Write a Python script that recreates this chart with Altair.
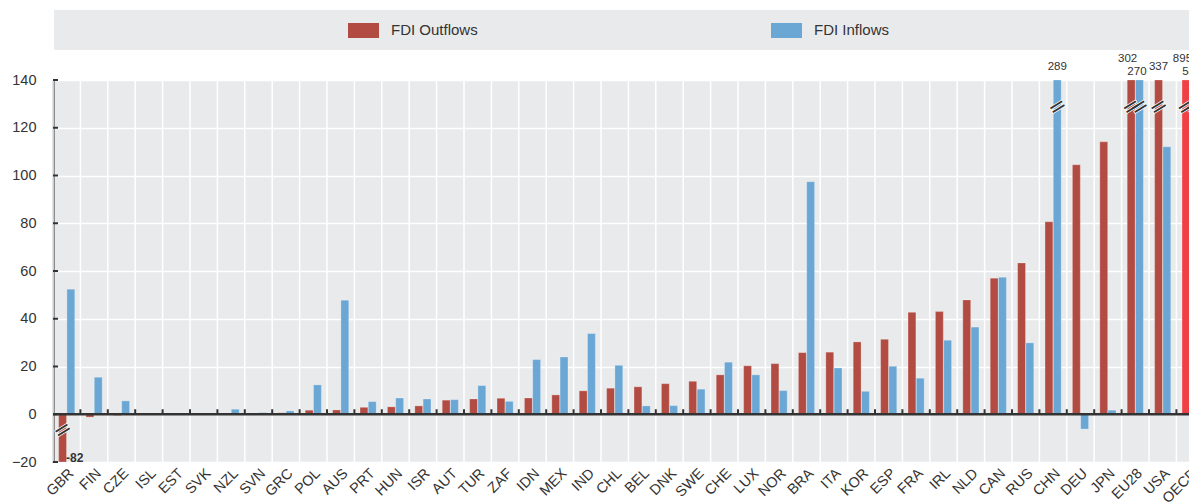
import altair as alt
import pandas as pd

# ---------------- data ----------------
countries = ["GBR", "FIN", "CZE", "ISL", "EST", "SVK", "NZL", "SVN", "GRC", "POL",
             "AUS", "PRT", "HUN", "ISR", "AUT", "TUR", "ZAF", "IDN", "MEX", "IND",
             "CHL", "BEL", "DNK", "SWE", "CHE", "LUX", "NOR", "BRA", "ITA", "KOR",
             "ESP", "FRA", "IRL", "NLD", "CAN", "RUS", "CHN", "DEU", "JPN", "EU28",
             "USA", "OECD"]
fdi_outflows = [-82, -1.2, -0.5, 0, 0, 0, 0, 0.1, 0.6, 1.7,
                1.8, 2.9, 3.1, 3.5, 5.9, 6.4, 6.7, 6.8, 8.1, 9.8,
                10.9, 11.5, 12.8, 13.8, 16.5, 20.3, 21.2, 25.8, 26.0, 30.3,
                31.4, 42.7, 43.0, 47.9, 57.0, 63.4, 80.6, 104.5, 114.1, 302,
                337, 895]
fdi_inflows = [52.4, 15.5, 5.6, 0, 0, 0, 2.1, 0.7, 1.4, 12.3,
               47.8, 5.3, 6.8, 6.4, 6.1, 12.0, 5.4, 22.9, 24.0, 33.8,
               20.5, 3.5, 3.6, 10.5, 21.8, 16.5, 9.9, 97.4, 19.4, 9.6,
               20.1, 15.1, 31.0, 36.5, 57.4, 29.9, 289, -6.2, 1.7, 270,
               112.0, 582]
y_ticks = [-20, 0, 20, 40, 60, 80, 100, 120, 140]
series = ["Outflows", "Inflows"]
legend_labels = ["FDI Outflows", "FDI Inflows"]

# ---------------- styling ----------------
FONT = "Liberation Sans, Arial, sans-serif"
GREY = "#E9EAEC"
DARK = "#333333"
RED, BLUE = "#B24C43", "#6BA7D4"
OECD_RED, OECD_GREEN = "#EE4045", "#8CC152"
YMIN, YMAX = -20, 140
W, H = 1136, 382
STEP = 27.4

rows = []
for c, o, i in zip(countries, fdi_outflows, fdi_inflows):
    for flow, v in (("Outflows", o), ("Inflows", i)):
        key = ("OECD " + flow) if c == "OECD" else flow
        rows.append({"country": c, "flow": flow, "value": v, "ckey": key})
df = pd.DataFrame(rows)

# labels for values beyond the axis range
lab = []
for c, o, i in zip(countries, fdi_outflows, fdi_inflows):
    ob = o > YMAX or o < YMIN
    ib = i > YMAX or i < YMIN
    for flow, v, broken in (("Outflows", o, ob), ("Inflows", i, ib)):
        if not broken:
            continue
        if v < YMIN:
            grp = "neg"
        elif ob and ib:
            grp = "upper" if flow == "Outflows" else "lower"
        else:
            grp = "single"
        lab.append({"country": c, "flow": flow, "value": v,
                    "txt": str(int(round(v))), "grp": grp})
lab_df = pd.DataFrame(lab)

xscale = alt.Scale(domain=countries, range=[0, STEP * len(countries)],
                   paddingInner=0, paddingOuter=0)
yscale = alt.Scale(domain=[YMIN, YMAX], nice=False, zero=False, clamp=True)
xoff = alt.XOffset("flow:N", scale=alt.Scale(domain=series, paddingInner=0.05, paddingOuter=0.68))

cdf = pd.DataFrame({"country": countries})

# vertical white separators between countries
vgrid = alt.Chart(cdf).mark_rule(color="white", strokeWidth=1.5).encode(
    x=alt.X("country:N", scale=xscale, bandPosition=0, title=None,
            axis=alt.Axis(labelAngle=315, labelAlign="right", labelBaseline="top",
                          ticks=False, domain=False, grid=False, labelPadding=4,
                          labelFontSize=14.5, labelColor=DARK, labelFont=FONT))
)

bars = alt.Chart(df).mark_bar(stroke="white", strokeOpacity=0.3, strokeWidth=0.8).encode(
    x=alt.X("country:N", scale=xscale, title=None),
    xOffset=xoff,
    y=alt.Y("value:Q", scale=yscale, title=None,
            axis=alt.Axis(values=y_ticks, grid=True, gridColor="white", gridWidth=1.5,
                          domainColor=DARK, domainWidth=2, ticks=False,
                          labelPadding=17, labelFontSize=14.5, labelColor=DARK,
                          labelFont=FONT)),
    color=alt.Color("ckey:N", legend=None,
                    scale=alt.Scale(domain=["Outflows", "Inflows", "OECD Outflows", "OECD Inflows"],
                                    range=[RED, BLUE, OECD_RED, OECD_GREEN])),
)

zero_line = alt.Chart(pd.DataFrame({"z": [0]})).mark_rule(color=DARK, strokeWidth=2.5).encode(
    y=alt.Y("z:Q", scale=yscale, title=None)
)

zero_ticks = alt.Chart(cdf).transform_filter(
    alt.datum.country != countries[0]
).mark_rule(color=DARK, strokeWidth=2).encode(
    x=alt.X("country:N", scale=xscale, bandPosition=0, title=None),
    y=alt.YDatum(0, scale=yscale),
    y2=alt.Y2Datum(2.1),
)

ytick_marks = alt.Chart(pd.DataFrame({"t": y_ticks})).mark_rule(color=DARK, strokeWidth=2).encode(
    y=alt.Y("t:Q", scale=yscale, title=None),
    x=alt.value(0), x2=alt.value(5),
)

brk_base = alt.Chart(lab_df).transform_calculate(
    by="datum.value > 140 ? 128.8 : -6.6"
).encode(
    x=alt.X("country:N", scale=xscale, title=None),
    xOffset=xoff,
    y=alt.Y("by:Q", scale=yscale, title=None),
    text=alt.value("="),
)
brk_halo = brk_base.mark_text(font="DejaVu Sans", fontSize=22, angle=328,
                              color="white", stroke="white", strokeWidth=1.5,
                              baseline="middle", align="center")
brk = brk_base.mark_text(font="DejaVu Sans", fontSize=22, angle=328, color=DARK,
                         baseline="middle", align="center")

def vlabels(grp, **kw):
    return alt.Chart(lab_df).transform_filter(alt.datum.grp == grp).mark_text(
        font=FONT, color=DARK, **kw
    ).encode(
        x=alt.X("country:N", scale=xscale, title=None),
        xOffset=xoff,
        y=alt.Y("value:Q", scale=yscale, title=None),
        text="txt:N",
    )

lab_single = vlabels("single", fontSize=11.5, dy=-13, baseline="middle", align="center")
lab_upper = vlabels("upper", fontSize=11.5, dy=-21, dx=-3.5, baseline="middle", align="center")
lab_lower = vlabels("lower", fontSize=11.5, dy=-8, dx=-2.5, baseline="middle", align="center")
lab_neg = vlabels("neg", fontSize=12, fontWeight="bold", dx=3.5, dy=0,
                  baseline="alphabetic", align="left")

# legend panel
one = pd.DataFrame({"a": [0]})
leg_bg = alt.Chart(one).mark_rect(color=GREY).encode(
    x=alt.value(1), x2=alt.value(W), y=alt.value(-70), y2=alt.value(-30)
)
leg_items = []
for name, col, x0 in zip(legend_labels, [RED, BLUE], [295, 718]):
    leg_items.append(alt.Chart(one).mark_rect(color=col).encode(
        x=alt.value(x0), x2=alt.value(x0 + 31), y=alt.value(-57), y2=alt.value(-42)))
    leg_items.append(alt.Chart(one).mark_text(
        font=FONT, fontSize=15, color=DARK, align="left", baseline="middle").encode(
        x=alt.value(x0 + 43), y=alt.value(-50), text=alt.value(name)))

chart = alt.layer(
    vgrid, bars, zero_line, zero_ticks, ytick_marks, brk_halo, brk,
    lab_single, lab_upper, lab_lower, lab_neg, leg_bg, *leg_items
).properties(
    width=W, height=H,
    autosize=alt.AutoSizeParams(type="none"),
    padding={"left": 45, "top": 72, "right": 0, "bottom": 40},
).configure_view(fill=GREY, stroke=None)

chart.save("out.html", embed_options={"renderer": "svg", "actions": False})
